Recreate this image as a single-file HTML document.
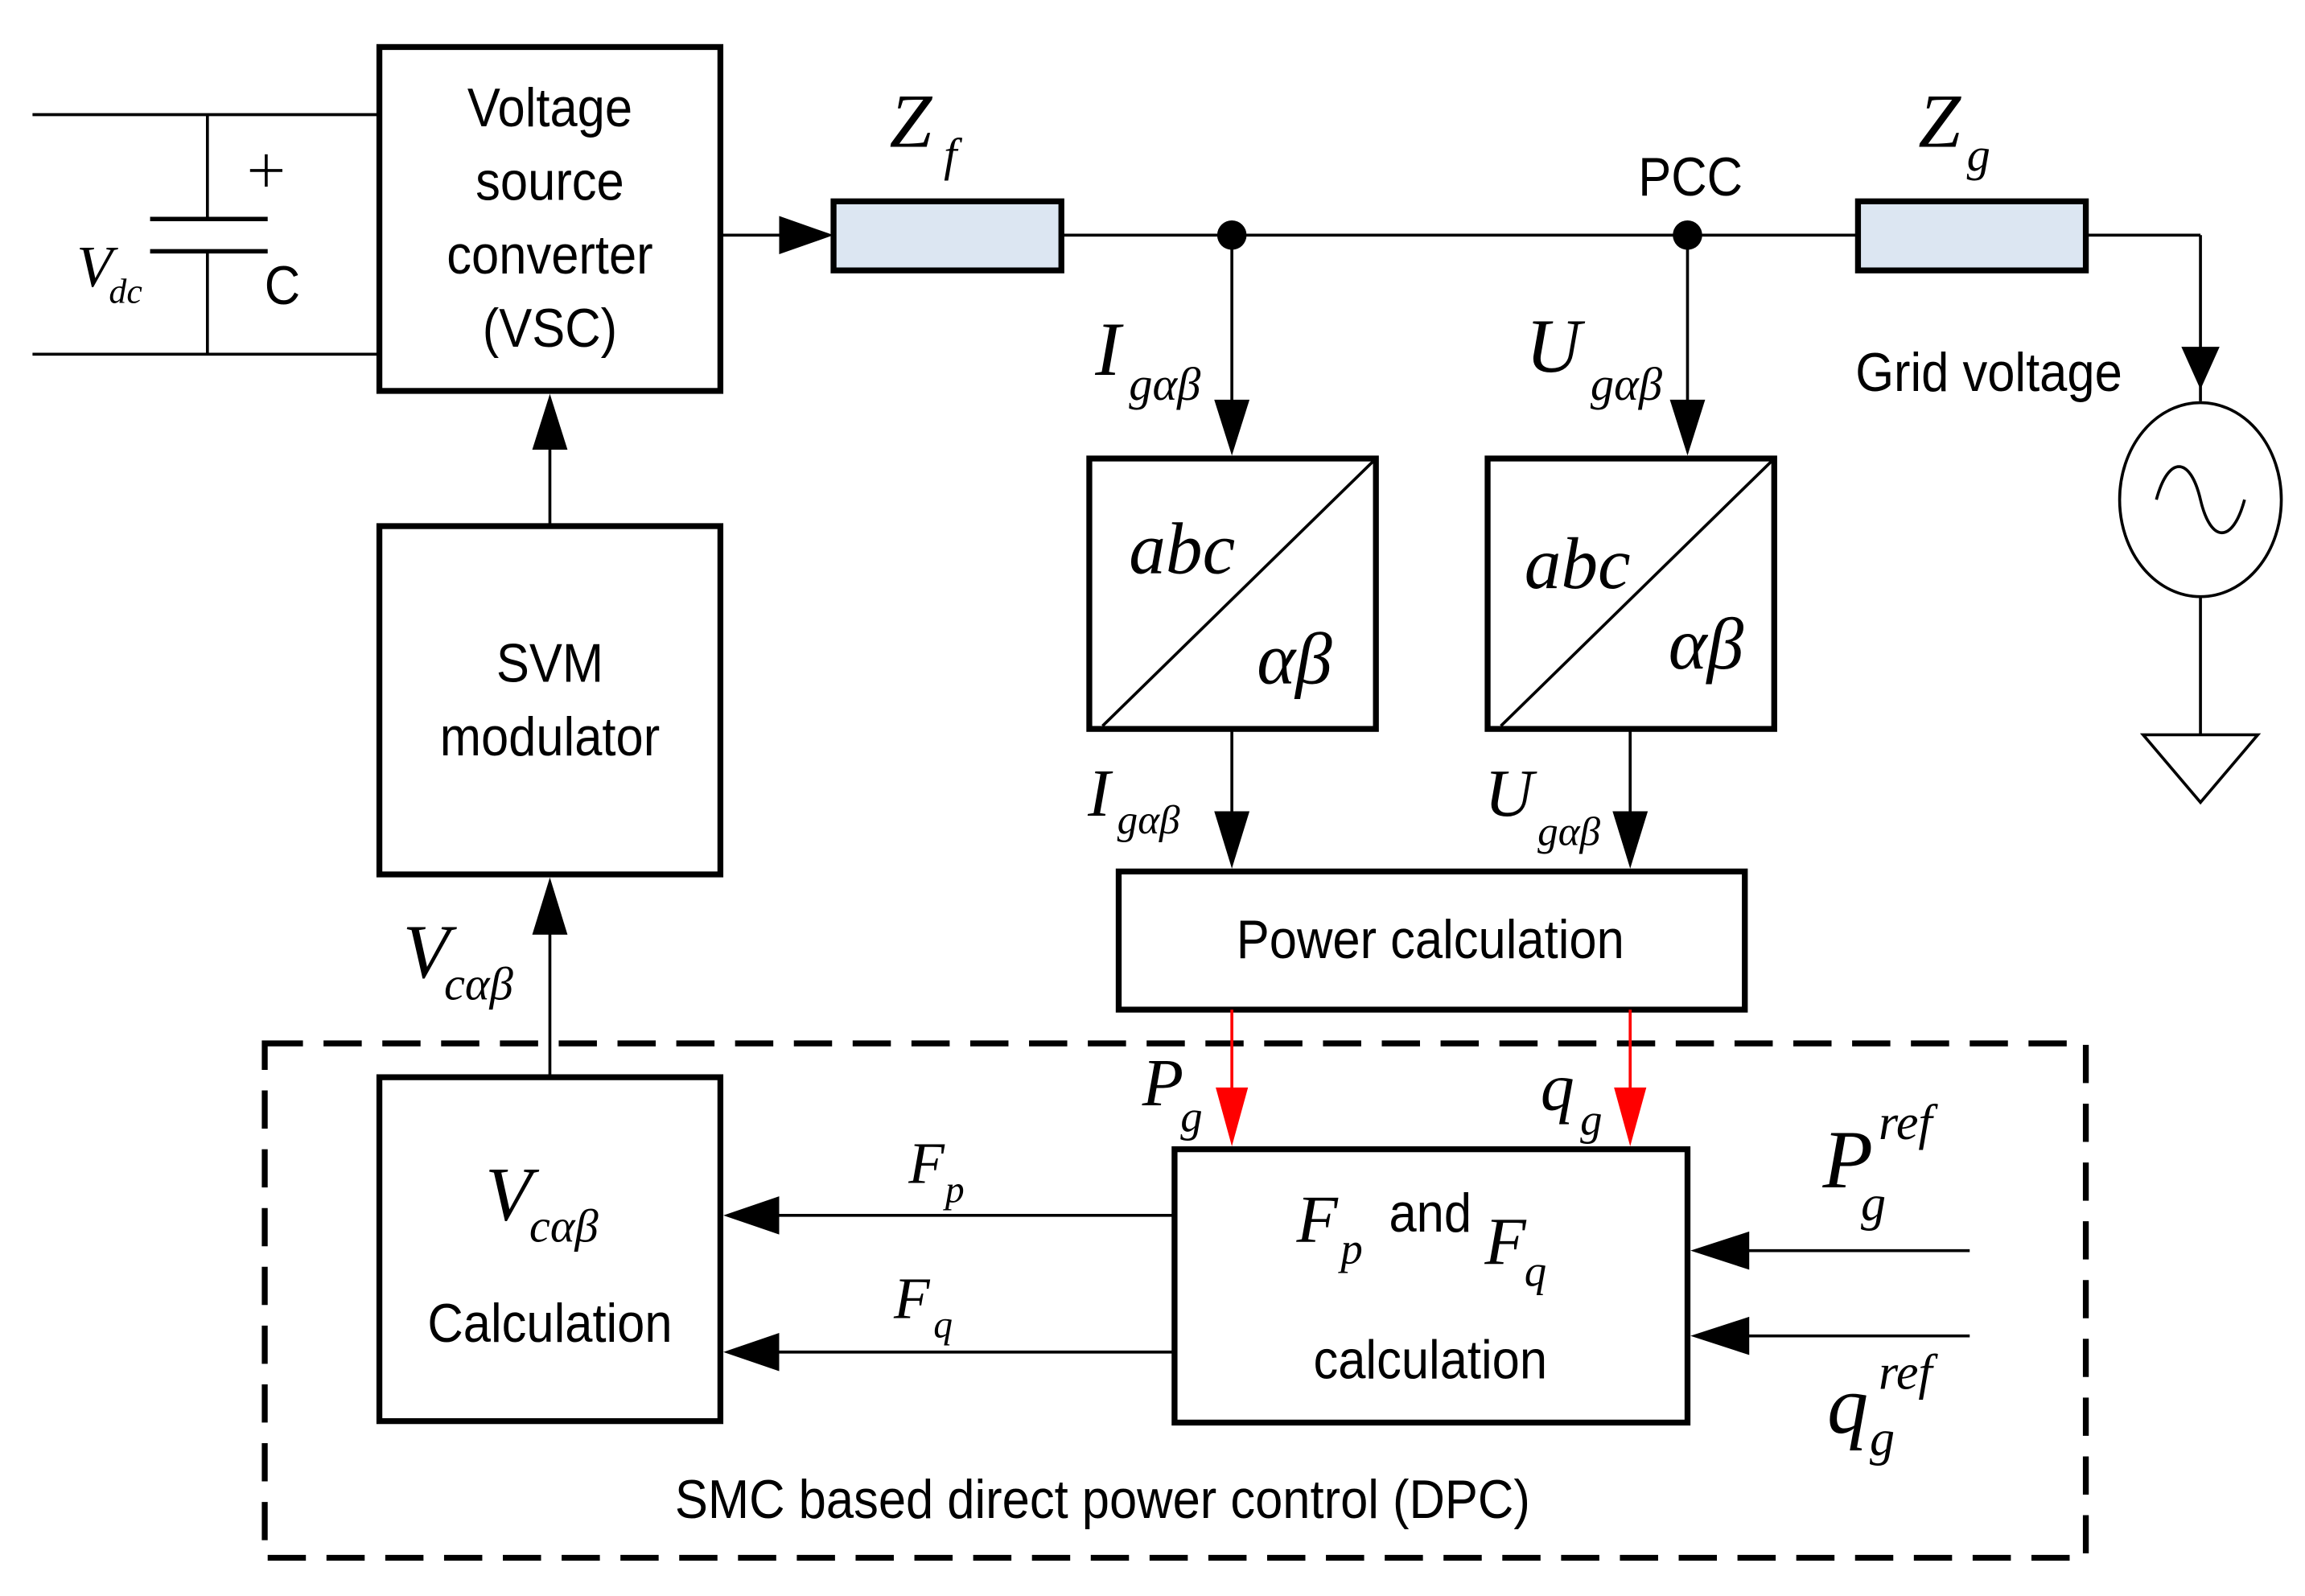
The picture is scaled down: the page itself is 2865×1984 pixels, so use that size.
<!DOCTYPE html>
<html><head><meta charset="utf-8"><style>
html,body{margin:0;padding:0;background:#fff}
svg{display:block}
text{font-family:"Liberation Sans",sans-serif;fill:#000}
.n text{transform-box:fill-box;transform-origin:center;transform:scaleX(0.91)}
.it{font-family:"Liberation Serif",serif;font-style:italic}
</style></head><body>
<svg width="2865" height="1984" viewBox="0 0 1568 1086" xmlns="http://www.w3.org/2000/svg">
<g stroke="#000" stroke-width="2" fill="none">
<line x1="22" y1="78" x2="258" y2="78"/>
<line x1="22" y1="241" x2="258" y2="241"/>
<line x1="141" y1="78" x2="141" y2="149"/>
<line x1="141" y1="171" x2="141" y2="241"/>
<line x1="102" y1="149" x2="182" y2="149" stroke-width="3"/>
<line x1="102" y1="171" x2="182" y2="171" stroke-width="3"/>
<line x1="170" y1="116" x2="192" y2="116"/><line x1="181" y1="105" x2="181" y2="127"/>
<rect x="258" y="32" width="232" height="234" stroke-width="4"/>
<rect x="258" y="358" width="232" height="237" stroke-width="4"/>
<rect x="258" y="733" width="232" height="234" stroke-width="4"/>
<rect x="567" y="137" width="155" height="47" stroke-width="4" fill="#dce6f2"/>
<rect x="1264" y="137" width="155" height="47" stroke-width="4" fill="#dce6f2"/>
<rect x="741" y="312" width="195" height="184" stroke-width="4"/>
<line x1="750" y1="494" x2="934" y2="314"/>
<rect x="1012" y="312" width="195" height="184" stroke-width="4"/>
<line x1="1021" y1="494" x2="1205" y2="314"/>
<rect x="761" y="593" width="426" height="94" stroke-width="4"/>
<rect x="799" y="782" width="349" height="186" stroke-width="4"/>
<rect x="180" y="710" width="1239" height="350" stroke-width="4" stroke-dasharray="26,14"/>
<line x1="490" y1="160" x2="535" y2="160"/>
<path d="M530,147 L530,173 L567,160z" fill="#000" stroke="none"/>
<line x1="722" y1="160" x2="1264" y2="160"/>
<line x1="1419" y1="160" x2="1497" y2="160"/>
<line x1="1497" y1="160" x2="1497" y2="273"/>
<path d="M1484,236 L1510,236 L1497,265z" fill="#000" stroke="none"/>
<ellipse cx="1497" cy="340" rx="55" ry="66"/>
<path d="M1467,340 C1475,310 1490,310 1497,340 C1504,370 1519,370 1527,340"/>
<line x1="1497" y1="406" x2="1497" y2="500"/>
<path d="M1458,500 L1536,500 L1497,546z"/>
<line x1="838" y1="160" x2="838" y2="280"/>
<path d="M826,272 L850,272 L838,310z" fill="#000" stroke="none"/>
<line x1="1148" y1="160" x2="1148" y2="280"/>
<path d="M1136,272 L1160,272 L1148,310z" fill="#000" stroke="none"/>
<line x1="838" y1="496" x2="838" y2="560"/>
<path d="M826,552 L850,552 L838,591z" fill="#000" stroke="none"/>
<line x1="1109" y1="496" x2="1109" y2="560"/>
<path d="M1097,552 L1121,552 L1109,591z" fill="#000" stroke="none"/>
<line x1="838" y1="687" x2="838" y2="750" stroke="#f00"/>
<path d="M827,740 L849,740 L838,780z" fill="#f00" stroke="none"/>
<line x1="1109" y1="687" x2="1109" y2="750" stroke="#f00"/>
<path d="M1098,740 L1120,740 L1109,780z" fill="#f00" stroke="none"/>
<line x1="374" y1="358" x2="374" y2="300"/>
<path d="M362,306 L386,306 L374,268z" fill="#000" stroke="none"/>
<line x1="374" y1="733" x2="374" y2="630"/>
<path d="M362,636 L386,636 L374,597z" fill="#000" stroke="none"/>
<line x1="799" y1="827" x2="525" y2="827"/>
<path d="M530,814 L530,840 L492,827z" fill="#000" stroke="none"/>
<line x1="799" y1="920" x2="525" y2="920"/>
<path d="M530,907 L530,933 L492,920z" fill="#000" stroke="none"/>
<line x1="1340" y1="851" x2="1185" y2="851"/>
<path d="M1190,838 L1190,864 L1150,851z" fill="#000" stroke="none"/>
<line x1="1340" y1="909" x2="1185" y2="909"/>
<path d="M1190,896 L1190,922 L1150,909z" fill="#000" stroke="none"/>
</g>
<circle cx="838" cy="160" r="10" fill="#000"/>
<circle cx="1148" cy="160" r="10" fill="#000"/>
<g font-size="37" text-anchor="middle" class="n">
<text x="374" y="86">Voltage</text>
<text x="374" y="136">source</text>
<text x="374" y="186">converter</text>
<text x="374" y="236">(VSC)</text>
<text x="374" y="464">SVM</text>
<text x="374" y="514">modulator</text>
<text x="374" y="913">Calculation</text>
<text x="973" y="652">Power calculation</text>
<text x="973" y="938">calculation</text>
<text x="1150" y="133">PCC</text>
<text x="1353" y="266">Grid voltage</text>
<text x="750" y="1033">SMC based direct power control (DPC)</text>
<text x="192" y="207">C</text>
<text x="973" y="838">and</text>
</g>
<g>
<text x="52" y="195" font-size="40" class="it">V</text><text x="74" y="206" font-size="24" class="it">dc</text>
<text x="605" y="100" font-size="52" class="it">Z</text><text x="642" y="116" font-size="32" class="it">f</text>
<text x="1305" y="100" font-size="52" class="it">Z</text><text x="1338" y="116" font-size="32" class="it">g</text>
<text x="745" y="255" font-size="52" class="it">I</text><text x="768" y="272" font-size="32" class="it">gαβ</text>
<text x="1038" y="253" font-size="52" class="it">U</text><text x="1082" y="272" font-size="32" class="it">gαβ</text>
<text x="768" y="390" font-size="50" class="it">abc</text>
<text x="855" y="465" font-size="50" class="it">αβ</text>
<text x="1037" y="400" font-size="50" class="it">abc</text>
<text x="1135" y="455" font-size="50" class="it">αβ</text>
<text x="740" y="555" font-size="46" class="it">I</text><text x="760" y="567" font-size="28" class="it">gαβ</text>
<text x="1010" y="555" font-size="46" class="it">U</text><text x="1046" y="575" font-size="28" class="it">gαβ</text>
<text x="274" y="665" font-size="52" class="it">V</text><text x="302" y="680" font-size="32" class="it">cαβ</text>
<text x="330" y="830" font-size="52" class="it">V</text><text x="360" y="845" font-size="32" class="it">cαβ</text>
<text x="777" y="752" font-size="46" class="it">P</text><text x="803" y="770" font-size="30" class="it">g</text>
<text x="1048" y="755" font-size="46" class="it">q</text><text x="1075" y="772" font-size="30" class="it">g</text>
<text x="618" y="805" font-size="40" class="it">F</text><text x="643" y="818" font-size="26" class="it">p</text>
<text x="608" y="897" font-size="40" class="it">F</text><text x="635" y="910" font-size="26" class="it">q</text>
<text x="882" y="845" font-size="46" class="it">F</text><text x="912" y="860" font-size="30" class="it">p</text>
<text x="1010" y="860" font-size="46" class="it">F</text><text x="1037" y="875" font-size="30" class="it">q</text>
<text x="1240" y="808" font-size="56" class="it">P</text><text x="1266" y="830" font-size="34" class="it">g</text><text x="1278" y="775" font-size="34" class="it">ref</text>
<text x="1243" y="975" font-size="56" class="it">q</text><text x="1272" y="990" font-size="34" class="it">g</text><text x="1278" y="945" font-size="34" class="it">ref</text>
</g>
</svg>
</body></html>
